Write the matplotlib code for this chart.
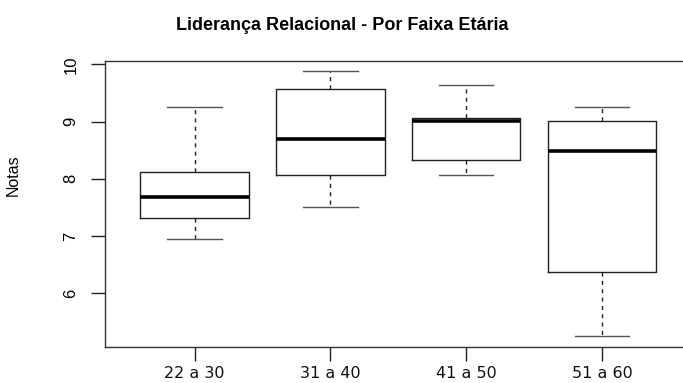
import matplotlib.pyplot as plt

# faixas etarias e resumo das notas
faixas = ['22 a 30', '31 a 40', '41 a 50', '51 a 60']
whislo = [6.94, 7.51, 8.07, 5.25]
q1 = [7.32, 8.07, 8.32, 6.38]
med = [7.69, 8.70, 9.01, 8.48]
q3 = [8.12, 9.56, 9.06, 9.01]
whishi = [9.25, 9.88, 9.63, 9.25]
yticks = [6, 7, 8, 9, 10]

plt.rcParams['font.family'] = ['Liberation Sans', 'DejaVu Sans']

stats = []
for i in range(len(faixas)):
    stats.append({'label': faixas[i], 'whislo': whislo[i], 'q1': q1[i], 'med': med[i],
                  'q3': q3[i], 'whishi': whishi[i], 'fliers': []})

fig = plt.figure(figsize=(6.83, 3.83), dpi=100)
ax = fig.add_axes([105/683, 36.3/383, 586.5/683, 286/383])

ax.bxp(stats, positions=[1, 2, 3, 4], widths=0.8, capwidths=0.4, showfliers=False,
       boxprops=dict(color='#222222', linewidth=1.0),
       whiskerprops=dict(color='#222222', linewidth=1.0, linestyle=(0, (3, 3))),
       capprops=dict(color='#555555', linewidth=1.0),
       medianprops=dict(color='black', linewidth=2.6))

ax.set_xlim(0.34, 4.66)
ax.set_ylim(5.067, 10.063)
ax.set_yticks(yticks)
ax.set_yticklabels([str(v) for v in yticks], rotation=90, va='center', fontsize=12)
ax.set_xticks([1, 2, 3, 4])
ax.set_xticklabels(faixas, fontsize=11.5, family='DejaVu Sans', color='#111111')
ax.tick_params(axis='both', length=10, width=1.0, color='#222222')
ax.tick_params(axis='x', pad=4)
ax.tick_params(axis='y', pad=9)
for s in ax.spines.values():
    s.set_color('#333333')
    s.set_linewidth(1.0)
ax.set_ylabel('Notas', fontsize=11.5)
ax.yaxis.set_label_coords(-0.143, 0.60)

fig.text(342/683, 1 - 25/383, 'Liderança Relacional - Por Faixa Etária',
         ha='center', va='center', fontsize=13, fontweight='bold')

fig.savefig('out.png', dpi=100)
